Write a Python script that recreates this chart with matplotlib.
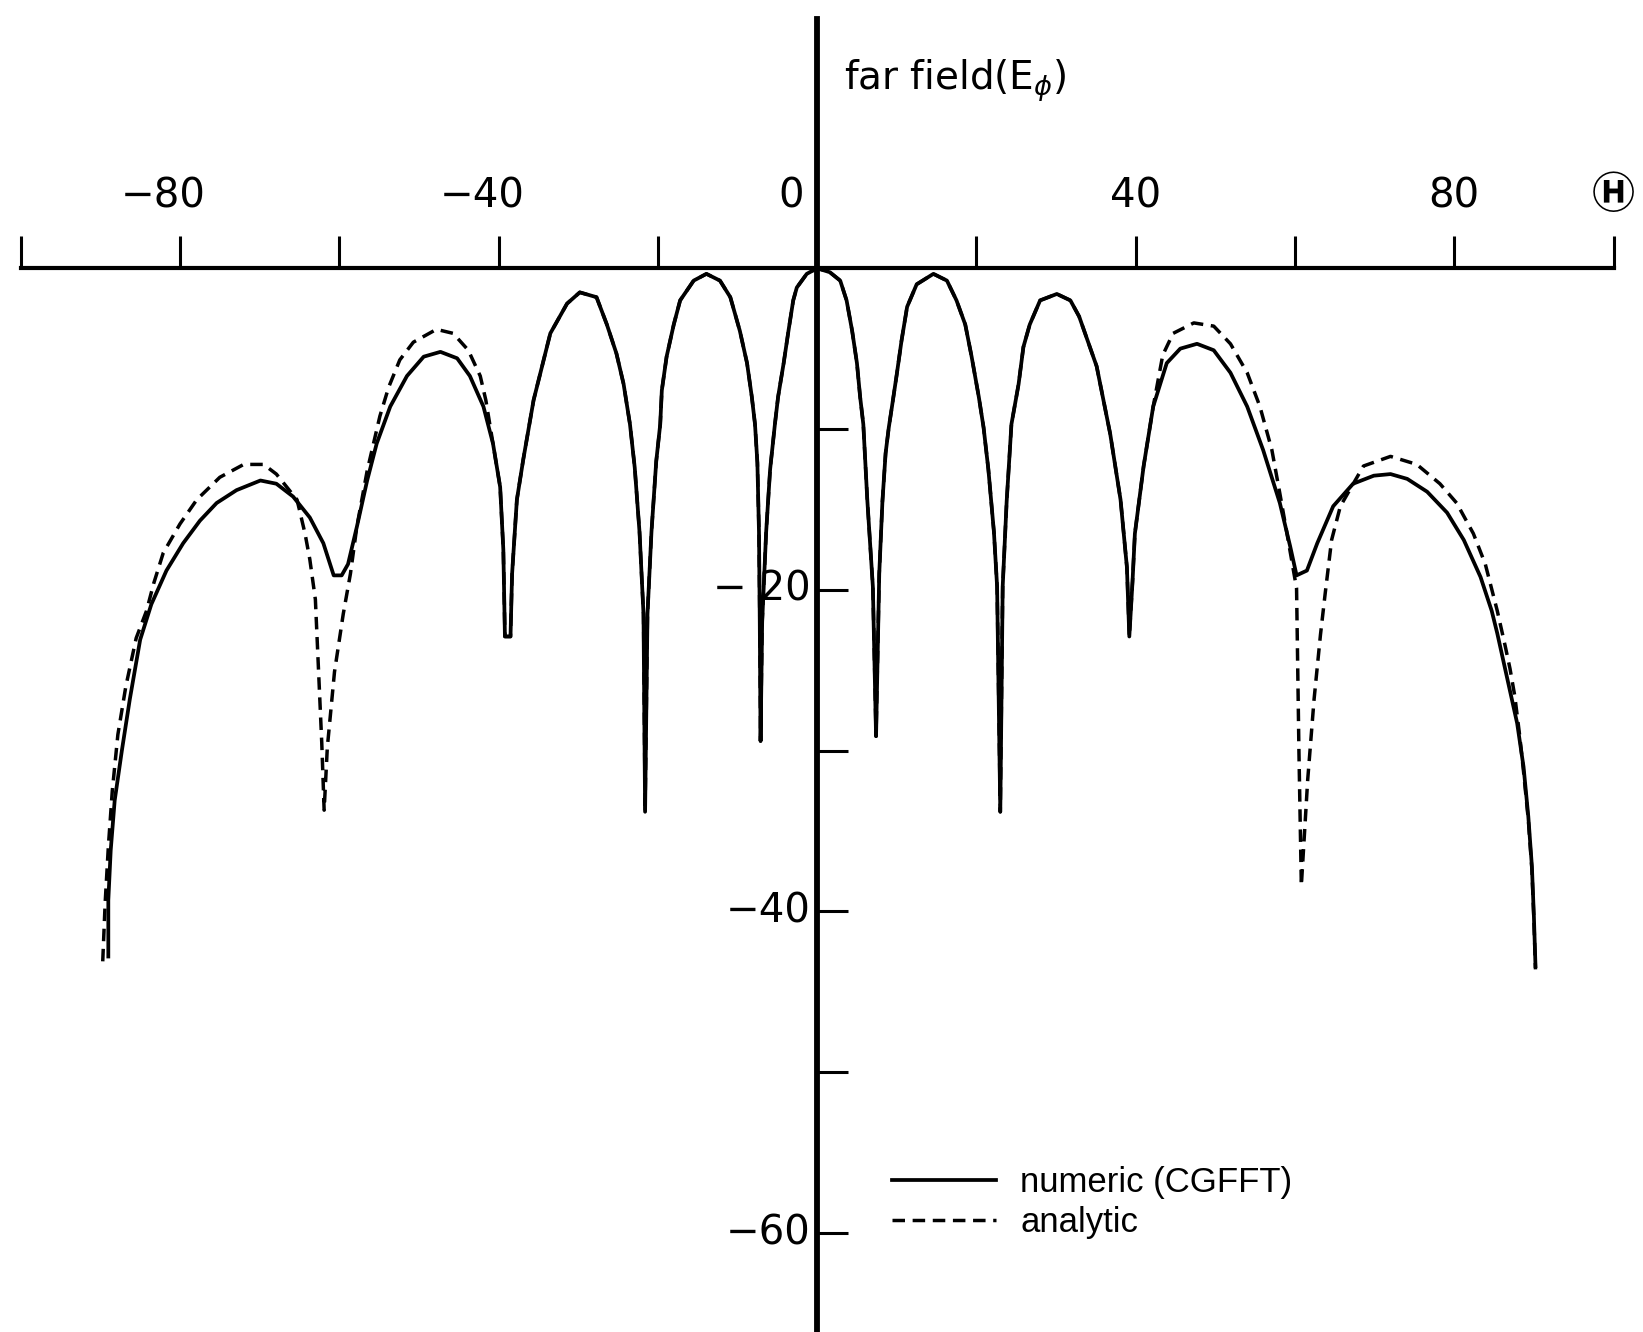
import numpy as np
import matplotlib
matplotlib.use("Agg")
import matplotlib.pyplot as plt

# far-field pattern (dB) versus observation angle theta (deg)
# numeric (CGFFT) solution, outer lobes
num_left_theta = [-89.0, -89.0, -88.7, -88.2, -87.3, -86.3, -85.0, -83.6, -81.7, -79.6,
                  -77.5, -75.4, -72.9, -69.9, -67.9, -65.8, -63.7, -62.0, -60.7, -59.7,
                  -58.9, -57.8, -56.5, -55.3, -53.6, -51.5, -49.4, -47.3, -45.2, -43.6,
                  -41.9, -40.7]
num_left_db = [-42.8, -39.3, -36.2, -33.1, -30.0, -26.8, -23.1, -20.9, -18.8, -17.1,
               -15.7, -14.6, -13.8, -13.2, -13.4, -14.2, -15.5, -17.1, -19.1, -19.1,
               -18.4, -16.1, -13.2, -10.9, -8.6, -6.7, -5.5, -5.2, -5.6, -6.7,
               -8.6, -10.9]

num_right_theta = [43.9, 45.6, 47.7, 49.8, 51.9, 54.0, 56.0, 58.1, 59.4, 60.2,
                   61.5, 62.8, 64.8, 67.3, 69.9, 72.0, 74.1, 76.6, 79.1, 81.2,
                   83.3, 84.7, 85.4, 86.6, 87.9, 88.7, 89.3, 89.75, 90.0, 90.2]
num_right_db = [-5.9, -5.0, -4.7, -5.1, -6.5, -8.6, -11.3, -14.6, -17.3, -19.1,
                -18.8, -17.1, -14.8, -13.4, -12.9, -12.8, -13.1, -13.9, -15.2, -16.9,
                -19.2, -21.3, -22.7, -25.4, -28.3, -31.0, -34.1, -37.2, -40.3, -43.4]

# central lobes, where both solutions coincide
core_theta = [-39.8, -39.4, -39.2, -38.5, -38.3, -37.7, -36.9, -35.6, -33.5, -32.3,
              -31.4, -29.8, -27.7, -26.4, -25.2, -24.3, -23.5, -22.9, -22.3, -21.8,
              -21.6, -21.3, -20.8, -20.2, -19.7, -19.5, -18.9, -18.0, -17.2, -15.5,
              -13.9, -12.2, -10.9, -9.7, -8.8, -8.2, -7.8, -7.5, -7.3, -7.2,
              -7.1, -6.9, -6.4, -5.9, -5.3, -4.9, -4.2, -3.6, -3.0, -2.55,
              -1.3, 0.0, 1.6, 2.9, 3.7, 4.4, 5.0, 5.4, 5.8, 6.3,
              7.0, 7.4, 7.8, 8.2, 8.6, 9.0, 9.4, 10.0, 10.6, 11.3,
              12.5, 14.6, 16.3, 17.5, 18.6, 19.4, 20.3, 20.9, 21.5, 22.2,
              22.6, 23.0, 23.3, 23.8, 24.4, 25.3, 25.9, 26.7, 28.0, 30.1,
              31.8, 32.9, 35.1, 36.8, 38.1, 38.9, 39.2, 39.6, 39.9, 41.0,
              42.2]
core_db = [-13.6, -17.5, -22.9, -22.9, -19.0, -14.4, -11.9, -8.2, -4.05, -3.0,
           -2.2, -1.5, -1.8, -3.5, -5.3, -7.2, -9.7, -12.4, -16.4, -21.5,
           -33.8, -21.5, -16.4, -12.0, -9.7, -7.6, -5.5, -3.5, -2.0, -0.77,
           -0.35, -0.77, -1.8, -3.9, -5.9, -8.0, -9.7, -12.1, -16.4, -22.0,
           -29.4, -22.0, -16.4, -12.5, -9.7, -8.0, -5.9, -3.9, -2.0, -1.2,
           -0.35, 0.0, -0.25, -0.77, -2.0, -3.9, -5.9, -8.0, -9.7, -14.4,
           -19.8, -29.1, -19.0, -14.5, -11.5, -9.9, -8.6, -6.6, -4.5, -2.4,
           -1.0, -0.35, -0.77, -2.0, -3.5, -5.5, -8.0, -9.9, -12.5, -16.4,
           -19.8, -33.8, -19.8, -14.5, -9.7, -7.2, -4.9, -3.5, -2.0, -1.6,
           -2.0, -3.0, -6.1, -10.3, -14.4, -18.6, -22.9, -19.5, -16.5, -12.3,
           -8.6]

# analytic solution, outer lobes
ana_left_theta = [-89.7, -89.4, -89.0, -88.5, -87.8, -86.8, -85.5, -84.2, -83.3, -82.1,
                  -80.0, -77.9, -75.0, -72.0, -69.5, -67.9, -65.3, -64.3, -63.7, -63.0,
                  -62.6, -62.2, -61.9, -61.5, -60.6, -59.5, -58.6, -57.8, -56.5, -54.9,
                  -53.8, -52.4, -50.7, -47.8, -45.7, -43.8, -42.3, -41.6]
ana_left_db = [-43.1, -39.5, -36.0, -32.5, -29.0, -26.0, -23.0, -21.3, -19.6, -17.7,
               -15.9, -14.4, -13.0, -12.2, -12.2, -12.8, -14.4, -16.5, -18.1, -20.6,
               -25.0, -29.5, -33.7, -29.8, -25.1, -21.5, -19.0, -16.1, -12.6, -9.2,
               -7.4, -5.7, -4.6, -3.8, -4.05, -5.1, -6.7, -8.2]

ana_right_theta = [43.4, 44.7, 47.3, 49.8, 51.9, 54.0, 55.6, 57.1, 58.1, 59.0,
                   60.2, 60.5, 60.8, 61.6, 62.4, 63.2, 63.8, 64.6, 65.7, 68.6,
                   72.0, 75.3, 78.2, 80.3, 82.4, 83.9, 85.4, 86.4, 87.0, 87.6,
                   88.2, 88.7, 89.3, 89.75, 90.0, 90.2]
ana_right_db = [-5.4, -4.05, -3.4, -3.6, -4.7, -6.5, -8.6, -11.3, -14.0, -16.5,
                -19.9, -30.1, -38.4, -31.8, -26.8, -22.8, -20.2, -16.9, -14.8, -12.3,
                -11.7, -12.2, -13.4, -14.6, -16.5, -18.4, -21.3, -23.5, -24.9, -26.6,
                -29.0, -31.3, -34.3, -37.4, -40.5, -43.6]

x_ticks = [-100, -80, -60, -40, -20, 0, 20, 40, 60, 80, 100]
x_labels = {-80: "\u221280", -40: "\u221240", 0: "0", 40: "40", 80: "80", 100: "\u24bd"}
y_ticks = [-10, -20, -30, -40, -50, -60]
y_labels = {-20: "\u2212 20", -40: "\u221240", -60: "\u221260"}

theta_num = num_left_theta + core_theta + num_right_theta
db_num = num_left_db + core_db + num_right_db
theta_ana = ana_left_theta + core_theta + ana_right_theta
db_ana = ana_left_db + core_db + ana_right_db

fig = plt.figure(figsize=(16.43, 13.32), dpi=100)
ax = fig.add_axes([0, 0, 1, 1])
ax.set_xlim(-102.6, 103.7)
ax.set_ylim(-66.15, 16.68)

ax.plot(theta_ana, db_ana, color="black", lw=2.5, dashes=(3.6, 2.2),
        label="analytic", zorder=3)
ax.plot(theta_num, db_num, color="black", lw=2.7, label="numeric (CGFFT)",
        solid_joinstyle="round", zorder=4)

# axes crossing at the origin
for side in ["bottom", "right"]:
    ax.spines[side].set_visible(False)
ax.spines["top"].set_position(("data", 0))
ax.spines["top"].set_bounds(-100, 100)
ax.spines["top"].set_linewidth(3.0)
ax.spines["left"].set_position(("data", 0))
ax.spines["left"].set_bounds(-66.15, 15.5)
ax.spines["left"].set_linewidth(4.2)

ax.xaxis.set_ticks_position("top")
ax.set_xticks(x_ticks)
ax.set_xticklabels([])
ax.tick_params(axis="x", direction="out", length=23, width=2.2)
ax.yaxis.set_ticks_position("left")
ax.set_yticks(y_ticks)
ax.set_yticklabels([])
ax.tick_params(axis="y", direction="in", length=22, width=2.2)

for t, lab in x_labels.items():
    dx = -12 if lab.startswith("\u2212") else 0
    size, weight = 29, "normal"
    if t == 0:
        dx = -19
    if t == 100:
        size, weight = 31, "bold"
    ax.annotate(lab, (t, 0), xytext=(dx, 52), textcoords="offset points",
                ha="center", va="center", fontsize=size, fontweight=weight,
                family=["DejaVu Sans", "Noto Sans CJK JP"])

for t, lab in y_labels.items():
    ax.annotate(lab, (0, t), xytext=(-5, 0), textcoords="offset points",
                ha="right", va="center", fontsize=29, family="DejaVu Sans")

ax.text(3.4, 11.1, r"far field(E$_\phi$)", fontsize=28, family="DejaVu Sans",
        ha="left", va="baseline")

handles, labels = ax.get_legend_handles_labels()
leg = ax.legend(handles[::-1], labels[::-1], loc="center left",
                bbox_to_anchor=(9.4, -58.1), bbox_transform=ax.transData,
                frameon=False, handlelength=3.0, handletextpad=0.7,
                labelspacing=0.2, borderpad=0, borderaxespad=0,
                prop={"family": "Liberation Sans", "size": 25})

fig.savefig("out.png", dpi=100, facecolor="white")
